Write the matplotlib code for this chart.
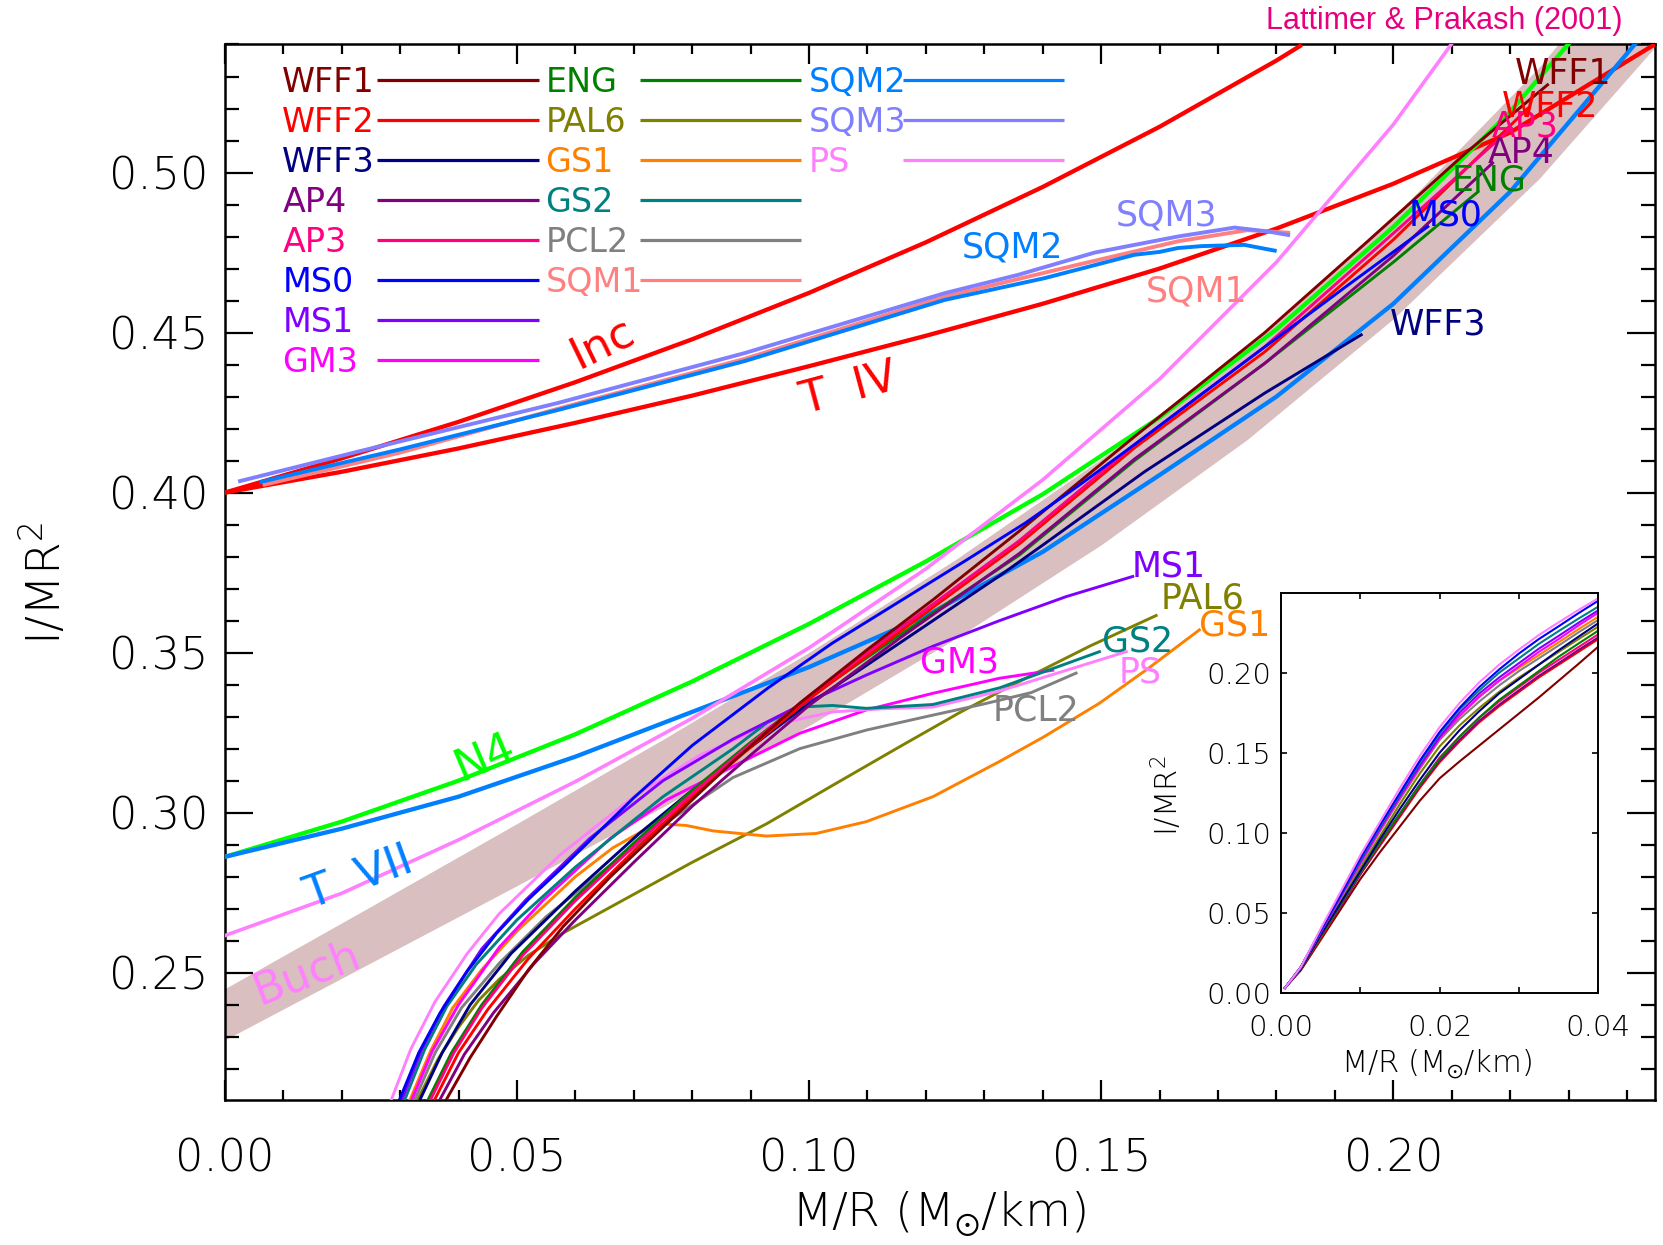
import matplotlib
matplotlib.use('Agg')
import matplotlib.pyplot as plt
from matplotlib.ticker import MultipleLocator, FixedLocator

plt.rcParams['font.family'] = ['DejaVu Sans']
plt.rcParams['font.weight'] = 'light'
plt.rcParams['mathtext.fontset'] = 'dejavusans'

# ---------------- data ----------------
band_x  = [0.0, 0.025, 0.05, 0.075, 0.10, 0.125, 0.15, 0.175, 0.20, 0.225, 0.25]
band_lo = [0.229, 0.2531, 0.2772, 0.3018, 0.3272, 0.3543, 0.3837, 0.4166, 0.4543, 0.4982, 0.5500]
band_hi = [0.245, 0.2707, 0.2966, 0.3229, 0.3501, 0.3790, 0.4105, 0.4458, 0.4861, 0.5330, 0.5884]

inc_x = [0.0, 0.02, 0.04, 0.06, 0.08, 0.10, 0.12, 0.14, 0.16, 0.18, 0.184]
inc_y = [0.400, 0.4107, 0.4221, 0.4345, 0.4479, 0.4624, 0.4782, 0.4955, 0.5143, 0.5350, 0.5395]

tiv_x = [0.0, 0.02, 0.04, 0.06, 0.08, 0.10, 0.12, 0.14, 0.16, 0.18, 0.20, 0.22, 0.2447]
tiv_y = [0.400, 0.4065, 0.4138, 0.4218, 0.4303, 0.4395, 0.4490, 0.4590, 0.4700, 0.4825, 0.4965, 0.5125, 0.5400]

n4_x = [0.0, 0.02, 0.04, 0.06, 0.08, 0.10, 0.12, 0.14, 0.16, 0.18, 0.20, 0.22, 0.2299]
n4_y = [0.2862, 0.2972, 0.3100, 0.3245, 0.3410, 0.3590, 0.3785, 0.3995, 0.4235, 0.4510, 0.4830, 0.5190, 0.5400]

tvii_x = [0.0, 0.02, 0.04, 0.06, 0.08, 0.10, 0.12, 0.14, 0.16, 0.18, 0.20, 0.22, 0.2413]
tvii_y = [0.2862, 0.2950, 0.3050, 0.3175, 0.3315, 0.3455, 0.3615, 0.3815, 0.4055, 0.4300, 0.4590, 0.4940, 0.5400]

buch_x = [0.0, 0.02, 0.04, 0.06, 0.08, 0.10, 0.12, 0.14, 0.16, 0.18, 0.20, 0.2099]
buch_y = [0.2616, 0.2748, 0.2915, 0.3097, 0.3295, 0.3515, 0.3762, 0.4040, 0.4355, 0.4720, 0.5150, 0.5400]

sqm1_x = [0.0068, 0.03, 0.057, 0.089, 0.1232, 0.146, 0.1631, 0.175, 0.182]
sqm1_y = [0.4025, 0.4125, 0.4262, 0.4418, 0.4612, 0.4712, 0.4785, 0.4820, 0.4812]
sqm2_x = [0.0063, 0.03, 0.057, 0.089, 0.1232, 0.1403, 0.1557, 0.1600, 0.1631, 0.1671, 0.1745, 0.1797]
sqm2_y = [0.4034, 0.4135, 0.4258, 0.4411, 0.4602, 0.4670, 0.4743, 0.4752, 0.4764, 0.4770, 0.4774, 0.4756]
sqm3_x = [0.0026, 0.0228, 0.057, 0.089, 0.1232, 0.1357, 0.1489, 0.1631, 0.1728, 0.1785, 0.182]
sqm3_y = [0.4036, 0.4128, 0.4280, 0.4436, 0.4623, 0.4680, 0.4750, 0.4800, 0.4828, 0.4816, 0.4805]

wff1_x = [0.0379, 0.0420, 0.0465, 0.0520, 0.0579, 0.0660, 0.0756, 0.087, 0.0984, 0.110, 0.1212, 0.136, 0.1557, 0.178, 0.1956, 0.2127, 0.2264]
wff1_y = [0.2103, 0.2235, 0.2363, 0.2510, 0.2644, 0.2800, 0.2965, 0.3160, 0.3342, 0.3510, 0.3665, 0.3880, 0.4175, 0.4500, 0.4785, 0.5066, 0.5274]
wff2_x = [0.0359, 0.0400, 0.0450, 0.0520, 0.060, 0.070, 0.080, 0.090, 0.100, 0.1155, 0.136, 0.1557, 0.178, 0.200, 0.223]
wff2_y = [0.2103, 0.2250, 0.2385, 0.2545, 0.2700, 0.2880, 0.3050, 0.3205, 0.3355, 0.3565, 0.3840, 0.4140, 0.4440, 0.4790, 0.5200]
wff3_x = [0.0334, 0.0372, 0.0420, 0.0490, 0.060, 0.071, 0.080, 0.090, 0.0984, 0.1098, 0.1212, 0.1326, 0.1403, 0.1574, 0.178, 0.1945]
wff3_y = [0.2103, 0.2250, 0.2400, 0.2560, 0.2755, 0.2936, 0.3070, 0.3205, 0.3320, 0.3460, 0.3600, 0.3740, 0.3840, 0.4065, 0.4311, 0.4493]
ap4_x = [0.0368, 0.0410, 0.0460, 0.0530, 0.060, 0.070, 0.080, 0.090, 0.100, 0.1155, 0.136, 0.1557, 0.178, 0.200, 0.217]
ap4_y = [0.2103, 0.2245, 0.2375, 0.2530, 0.2665, 0.2845, 0.3020, 0.3180, 0.3335, 0.3545, 0.3810, 0.4105, 0.4404, 0.4740, 0.5030]
ap3_x = [0.0352, 0.0392, 0.0440, 0.0510, 0.060, 0.070, 0.080, 0.090, 0.100, 0.1155, 0.136, 0.1557, 0.178, 0.200, 0.2202]
ap3_y = [0.2103, 0.2250, 0.2390, 0.2555, 0.2725, 0.2895, 0.3060, 0.3215, 0.3365, 0.3575, 0.3850, 0.4150, 0.4456, 0.4810, 0.5139]
ms0_x = [0.0299, 0.0332, 0.0368, 0.0415, 0.0465, 0.0520, 0.0579, 0.0640, 0.0699, 0.080, 0.093, 0.104, 0.1155, 0.127, 0.137, 0.146, 0.1557, 0.167, 0.1785, 0.192, 0.2059]
ms0_y = [0.2103, 0.2250, 0.2373, 0.2505, 0.2623, 0.2730, 0.2831, 0.2940, 0.3045, 0.3210, 0.3390, 0.3530, 0.3660, 0.3790, 0.3905, 0.4020, 0.4150, 0.4305, 0.4462, 0.4645, 0.4831]
ms1_x = [0.0303, 0.0337, 0.0375, 0.0440, 0.0515, 0.0625, 0.075, 0.087, 0.0973, 0.1098, 0.1212, 0.1326, 0.144, 0.1554]
ms1_y = [0.2103, 0.2260, 0.2395, 0.2575, 0.2727, 0.2920, 0.3100, 0.3230, 0.3325, 0.3430, 0.3520, 0.3600, 0.3675, 0.3738]
gm3_x = [0.0320, 0.0355, 0.0400, 0.0470, 0.0545, 0.066, 0.0756, 0.087, 0.0984, 0.1098, 0.1212, 0.1326, 0.1417]
gm3_y = [0.2103, 0.2255, 0.2400, 0.2580, 0.2727, 0.2920, 0.3040, 0.3145, 0.3248, 0.3321, 0.3373, 0.3420, 0.3445]
eng_x = [0.0348, 0.0388, 0.0440, 0.0510, 0.060, 0.070, 0.080, 0.090, 0.100, 0.1155, 0.136, 0.1557, 0.178, 0.200, 0.2145]
eng_y = [0.2103, 0.2250, 0.2400, 0.2565, 0.2735, 0.2905, 0.3070, 0.3220, 0.3360, 0.3555, 0.3805, 0.4100, 0.4404, 0.4720, 0.4940]
pal6_x = [0.0330, 0.0365, 0.040, 0.0435, 0.047, 0.052, 0.058, 0.070, 0.080, 0.0927, 0.104, 0.1155, 0.126, 0.136, 0.148, 0.1594]
pal6_y = [0.2103, 0.2230, 0.2330, 0.2415, 0.2480, 0.2555, 0.2625, 0.2745, 0.2845, 0.2965, 0.3085, 0.3206, 0.3315, 0.3410, 0.3520, 0.3616]
gs1_x = [0.0317, 0.0352, 0.0390, 0.0440, 0.050, 0.060, 0.0664, 0.0722, 0.075, 0.079, 0.0836, 0.0927, 0.1012, 0.1098, 0.1212, 0.1326, 0.140, 0.1497, 0.158, 0.1668]
gs1_y = [0.2103, 0.2255, 0.2390, 0.2510, 0.2630, 0.2800, 0.2890, 0.2950, 0.2965, 0.2960, 0.2943, 0.2927, 0.2935, 0.2972, 0.3050, 0.3160, 0.3235, 0.3342, 0.3450, 0.3571]
gs2_x = [0.0308, 0.0342, 0.0380, 0.0430, 0.050, 0.060, 0.075, 0.087, 0.0927, 0.0984, 0.104, 0.1098, 0.1212, 0.1326, 0.1497]
gs2_y = [0.2103, 0.2260, 0.2395, 0.2525, 0.2665, 0.2830, 0.3050, 0.3200, 0.3280, 0.3330, 0.3335, 0.3326, 0.3338, 0.3390, 0.3503]
pcl2_x = [0.0325, 0.0360, 0.0405, 0.047, 0.055, 0.0642, 0.0756, 0.087, 0.0984, 0.1098, 0.120, 0.130, 0.138, 0.1457]
pcl2_y = [0.2103, 0.2250, 0.2390, 0.2530, 0.2675, 0.2810, 0.2970, 0.3110, 0.3200, 0.3258, 0.3300, 0.3340, 0.3375, 0.3436]
ps_x = [0.0285, 0.0318, 0.0360, 0.0415, 0.047, 0.0575, 0.070, 0.0813, 0.0927, 0.1041, 0.113, 0.1212, 0.1326, 0.1543]
ps_y = [0.2103, 0.2260, 0.2410, 0.2560, 0.2685, 0.2870, 0.3050, 0.3180, 0.3270, 0.3315, 0.3325, 0.3330, 0.3380, 0.3503]

# inset (low compactness)
ins_x = [0.0005, 0.0025, 0.005, 0.0075, 0.010, 0.0125, 0.015, 0.0175, 0.020,
         0.0225, 0.025, 0.0275, 0.030, 0.0325, 0.035, 0.0375, 0.040]
ins_ps   = [0.003, 0.016, 0.040, 0.063, 0.086, 0.107, 0.128, 0.148, 0.166, 0.181, 0.194, 0.205, 0.2145, 0.2235, 0.2315, 0.2392, 0.2465]
ins_ms0  = [0.003, 0.016, 0.039, 0.061, 0.084, 0.105, 0.125, 0.145, 0.163, 0.178, 0.191, 0.202, 0.212, 0.221, 0.229, 0.2372, 0.2450]
ins_gs2  = [0.003, 0.016, 0.039, 0.061, 0.083, 0.104, 0.124, 0.144, 0.162, 0.177, 0.189, 0.200, 0.209, 0.218, 0.226, 0.2338, 0.2413]
ins_ms1  = [0.003, 0.016, 0.038, 0.060, 0.082, 0.103, 0.123, 0.142, 0.160, 0.175, 0.187, 0.197, 0.206, 0.215, 0.223, 0.2312, 0.2390]
ins_gm3  = [0.003, 0.016, 0.038, 0.060, 0.081, 0.102, 0.122, 0.141, 0.159, 0.173, 0.185, 0.195, 0.204, 0.213, 0.221, 0.2295, 0.2375]
ins_gs1  = [0.003, 0.016, 0.038, 0.060, 0.081, 0.102, 0.122, 0.141, 0.159, 0.173, 0.185, 0.195, 0.203, 0.211, 0.219, 0.2272, 0.2350]
ins_pcl2 = [0.003, 0.016, 0.038, 0.059, 0.080, 0.101, 0.121, 0.140, 0.158, 0.171, 0.182, 0.192, 0.201, 0.209, 0.217, 0.2252, 0.2330]
ins_wff3 = [0.003, 0.015, 0.036, 0.056, 0.076, 0.096, 0.115, 0.133, 0.150, 0.164, 0.176, 0.187, 0.196, 0.205, 0.214, 0.2225, 0.2309]
ins_pal6 = [0.003, 0.015, 0.037, 0.058, 0.078, 0.098, 0.118, 0.137, 0.154, 0.167, 0.178, 0.188, 0.197, 0.205, 0.213, 0.2210, 0.2288]
ins_eng  = [0.003, 0.015, 0.035, 0.055, 0.075, 0.094, 0.112, 0.130, 0.146, 0.160, 0.172, 0.183, 0.192, 0.201, 0.210, 0.2182, 0.2263]
ins_ap3  = [0.003, 0.015, 0.035, 0.055, 0.075, 0.094, 0.112, 0.130, 0.147, 0.160, 0.172, 0.182, 0.191, 0.200, 0.208, 0.2160, 0.2240]
ins_ap4  = [0.003, 0.015, 0.035, 0.054, 0.074, 0.093, 0.111, 0.129, 0.145, 0.158, 0.170, 0.180, 0.189, 0.198, 0.206, 0.2142, 0.2221]
ins_wff2 = [0.003, 0.015, 0.034, 0.054, 0.074, 0.092, 0.110, 0.128, 0.144, 0.157, 0.169, 0.179, 0.188, 0.197, 0.205, 0.2130, 0.2210]
ins_wff1 = [0.003, 0.014, 0.033, 0.052, 0.071, 0.088, 0.104, 0.120, 0.134, 0.1445, 0.1545, 0.1645, 0.1745, 0.1845, 0.1950, 0.2055, 0.2163]

x_ticks = [0.00, 0.05, 0.10, 0.15, 0.20]
y_ticks = [0.25, 0.30, 0.35, 0.40, 0.45, 0.50]

C = {
    'WFF1': '#800000', 'WFF2': '#FF0000', 'WFF3': '#000080', 'AP4': '#800080',
    'AP3': '#FF0080', 'MS0': '#0000FF', 'MS1': '#8000FF', 'GM3': '#FF00FF',
    'ENG': '#008000', 'PAL6': '#808000', 'GS1': '#FF8000', 'GS2': '#008080',
    'PCL2': '#808080', 'SQM1': '#FF8080', 'SQM2': '#0080FF', 'SQM3': '#8080FF',
    'PS': '#FF80FF', 'N4': '#00FF00', 'TVII': '#0080FF', 'Buch': '#FF80FF',
    'Inc': '#FF0000', 'TIV': '#FF0000',
}

# ---------------- figure ----------------
fig = plt.figure(figsize=(16.63, 12.45), dpi=100)
ax = fig.add_axes([0.13518, 0.11663, 0.85971, 0.84763])
ax.set_xlim(0.0, 0.2447)
ax.set_ylim(0.2103, 0.5400)

ax.fill_between(band_x, band_lo, band_hi, color='#D9BFBF', lw=0, zorder=1)

thick = 3.1
ax.plot(inc_x, inc_y, color=C['Inc'], lw=thick, zorder=3)
ax.plot(tiv_x, tiv_y, color=C['TIV'], lw=thick, zorder=3)
ax.plot(n4_x, n4_y, color=C['N4'], lw=thick, zorder=3)
ax.plot(tvii_x, tvii_y, color=C['TVII'], lw=thick, zorder=3)
ax.plot(buch_x, buch_y, color=C['Buch'], lw=2.6, zorder=3)
ax.plot(sqm1_x, sqm1_y, color=C['SQM1'], lw=2.8, zorder=3)
ax.plot(sqm3_x, sqm3_y, color=C['SQM3'], lw=2.8, zorder=3)
ax.plot(sqm2_x, sqm2_y, color=C['SQM2'], lw=2.8, zorder=3)

eos = [
    (pal6_x, pal6_y, 'PAL6'), (gs1_x, gs1_y, 'GS1'), (pcl2_x, pcl2_y, 'PCL2'),
    (gm3_x, gm3_y, 'GM3'), (ps_x, ps_y, 'PS'), (gs2_x, gs2_y, 'GS2'),
    (ms1_x, ms1_y, 'MS1'), (wff3_x, wff3_y, 'WFF3'), (eng_x, eng_y, 'ENG'),
    (ap4_x, ap4_y, 'AP4'), (wff2_x, wff2_y, 'WFF2'), (ap3_x, ap3_y, 'AP3'),
    (wff1_x, wff1_y, 'WFF1'), (ms0_x, ms0_y, 'MS0'),
]
for xs, ys, name in eos:
    ax.plot(xs, ys, color=C[name], lw=2.1, zorder=4)

# ticks
ax.xaxis.set_major_locator(FixedLocator(x_ticks))
ax.yaxis.set_major_locator(FixedLocator(y_ticks))
ax.xaxis.set_minor_locator(MultipleLocator(0.01))
ax.yaxis.set_minor_locator(MultipleLocator(0.01))
ax.set_xticklabels(['%.2f' % v for v in x_ticks])
ax.set_yticklabels(['%.2f' % v for v in y_ticks])
ax.tick_params(which='both', direction='in', top=True, right=True, width=1.6)
ax.tick_params(axis='x', which='major', length=14.4, pad=27, labelsize=32)
ax.tick_params(axis='x', which='minor', length=7.2)
ax.tick_params(axis='y', which='major', length=20, pad=12, labelsize=32)
ax.tick_params(axis='y', which='minor', length=10)
for s in ax.spines.values():
    s.set_linewidth(1.8)

# legend block
rows = [0.5290, 0.5165, 0.5040, 0.4915, 0.4790, 0.4665, 0.4540, 0.4415]
cols = [(0.00985, 0.0261, 0.0537, ['WFF1', 'WFF2', 'WFF3', 'AP4', 'AP3', 'MS0', 'MS1', 'GM3']),
        (0.0549, 0.0710, 0.0987, ['ENG', 'PAL6', 'GS1', 'GS2', 'PCL2', 'SQM1']),
        (0.1000, 0.1161, 0.1436, ['SQM2', 'SQM3', 'PS'])]
for tx, lx0, lx1, names in cols:
    for r, name in zip(rows, names):
        ax.plot([lx0, lx1], [r, r], color=C[name], lw=2.3, zorder=5, solid_capstyle='butt')
        ax.text(tx, r - 0.0038, name, color=C[name], fontsize=24, weight='normal',
                ha='left', va='baseline', zorder=6)

# curve labels (horizontal)
hlabels = [
    ('SQM3', 0.1612, 0.4873), ('SQM2', 0.1349, 0.4774), ('SQM1', 0.1663, 0.4636),
    ('WFF3', 0.2076, 0.4534), ('MS0', 0.2090, 0.4873), ('ENG', 0.2163, 0.4984),
    ('AP4', 0.2219, 0.5071), ('AP3', 0.2226, 0.5151), ('WFF2', 0.2269, 0.5214),
    ('WFF1', 0.2290, 0.5316), ('MS1', 0.1615, 0.3777), ('PAL6', 0.1674, 0.3678),
    ('GS1', 0.1728, 0.3595), ('GS2', 0.1563, 0.3543), ('PS', 0.1566, 0.3446),
    ('PCL2', 0.1388, 0.3329), ('GM3', 0.1258, 0.3477),
]
for name, lx, ly in hlabels:
    ax.text(lx, ly - 0.0040, name, color=C[name], fontsize=25, weight='normal',
            ha='center', va='baseline', zorder=7)

# rotated labels
rlabels = [
    ('Inc', 'Inc', 0.0647, 0.4469, 26), ('T  IV', 'TIV', 0.1068, 0.4323, 15),
    ('N4', 'N4', 0.0445, 0.3173, 23), ('T  VII', 'TVII', 0.0229, 0.2797, 20),
    ('Buch', 'Buch', 0.0141, 0.2498, 21),
]
for txt, key, lx, ly, rot in rlabels:
    ax.text(lx, ly, txt, color=C[key], fontsize=32, weight='normal', ha='center',
            va='center', rotation=rot, rotation_mode='anchor', zorder=7)

fig.text(938.6 / 1663, 1 - 1214.4 / 1245, r'M/R (M$_{\odot}$/km)', fontsize=34,
         ha='center', va='center')
fig.text(44 / 1663, 1 - 583.3 / 1245, r'I/MR$^2$', fontsize=34, rotation=90,
         ha='center', va='center')
fig.text(1623 / 1663, 1 - 21 / 1245, 'Lattimer & Prakash (2001)', color='#E6007E',
         fontsize=22, family=['Liberation Sans', 'DejaVu Sans'], weight='normal',
         ha='right', va='center')

# ---------------- inset ----------------
ax2 = fig.add_axes([0.77030, 0.20265, 0.19080, 0.32129])
ax2.set_facecolor('white')
ax2.set_xlim(0.0, 0.04)
ax2.set_ylim(0.0, 0.25)
ins = [(ins_wff1, 'WFF1'), (ins_wff2, 'WFF2'), (ins_ap4, 'AP4'), (ins_ap3, 'AP3'),
       (ins_eng, 'ENG'), (ins_pal6, 'PAL6'), (ins_wff3, 'WFF3'), (ins_pcl2, 'PCL2'),
       (ins_gs1, 'GS1'), (ins_gm3, 'GM3'), (ins_ms1, 'MS1'), (ins_gs2, 'GS2'),
       (ins_ms0, 'MS0'), (ins_ps, 'PS')]
for ys, name in ins:
    ax2.plot(ins_x, ys, color=C[name], lw=1.5)
ax2.xaxis.set_major_locator(FixedLocator([0.0, 0.02, 0.04]))
ax2.xaxis.set_minor_locator(FixedLocator([0.01, 0.03]))
ax2.yaxis.set_major_locator(FixedLocator([0.0, 0.05, 0.10, 0.15, 0.20]))
ax2.set_xticklabels(['0.00', '0.02', '0.04'])
ax2.set_yticklabels(['0.00', '0.05', '0.10', '0.15', '0.20'])
ax2.tick_params(which='both', direction='in', top=True, right=True, length=4.5, width=1.2)
ax2.tick_params(axis='x', which='major', pad=15, labelsize=21)
ax2.tick_params(axis='y', which='major', pad=7, labelsize=21)
for s in ax2.spines.values():
    s.set_linewidth(1.4)
fig.text(1437 / 1663, 1 - 1063.8 / 1245, r'M/R (M$_{\odot}$/km)', fontsize=22,
         ha='center', va='center')
fig.text(1166.7 / 1663, 1 - 795.5 / 1245, r'I/MR$^2$', fontsize=22, rotation=90,
         ha='center', va='center')

fig.savefig('out.png', dpi=100)
